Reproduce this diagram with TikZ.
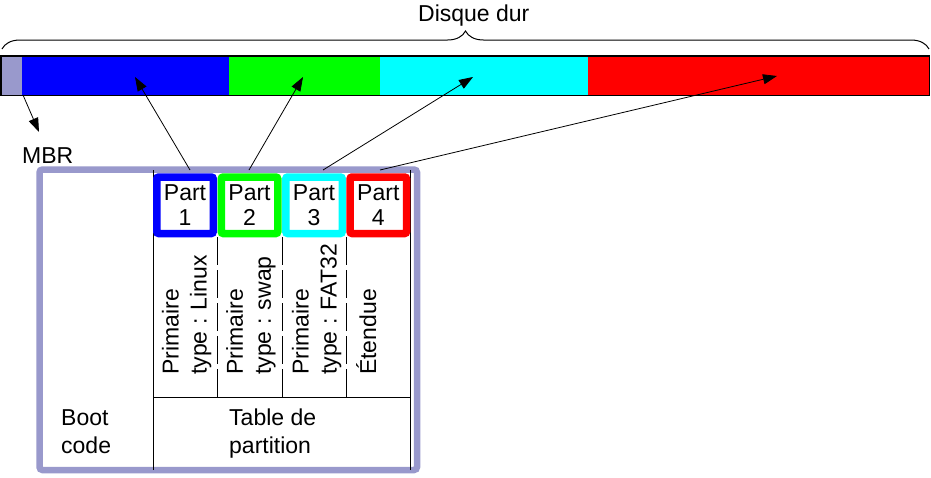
\documentclass[tikz,border=0pt]{standalone}
\usepackage{fontspec}
\setmainfont{Liberation Sans}
\usetikzlibrary{arrows.meta,decorations.pathreplacing}
\definecolor{lav}{RGB}{153,153,204}
\definecolor{pblue}{RGB}{0,0,255}
\definecolor{pgreen}{RGB}{0,255,0}
\definecolor{pcyan}{RGB}{0,255,255}
\definecolor{pred}{RGB}{255,0,0}
\begin{document}
\begin{tikzpicture}[x=1pt,y=-1pt,
  txt/.style={font=\fontsize{23}{28}\selectfont, inner sep=0pt, align=left},
  rot/.style={txt, rotate=90, anchor=north west},
  partbox/.style={draw=#1, fill=white, line width=7.5pt, rounded corners=2pt,
    minimum width=56.5pt, minimum height=56.5pt, inner sep=0pt, align=center,
    font=\fontsize{23}{25.5}\selectfont},
  thin/.style={line width=0.8pt},
  divider/.style={line width=0.8pt, dash pattern=on 28pt off 5pt},
  conn/.style={-{Triangle[length=14pt,width=10pt]}, line width=0.8pt}]
\useasboundingbox[fill=white] (0,0) rectangle (931,477);

% brace and title
\draw[line width=1pt, decorate, decoration={brace, amplitude=18pt}] (2,49) -- (929,49);
\node[txt, anchor=north west] (disque) at (418,5) {Disque dur};

% disk bar
\fill[lav] (0,55) rectangle (22,95);
\fill[pblue] (22,55) rectangle (229,95);
\fill[pgreen] (229,55) rectangle (380,95);
\fill[pcyan] (380,55) rectangle (588,95);
\fill[pred] (588,55) rectangle (929,95);
\draw[line width=1pt] (0.5,55.5) rectangle (929,95);
\draw[line width=2.5pt] (0,56) -- (930,56);
\draw[line width=2pt] (1,55) -- (1,95);

\coordinate (t0) at (23,95);
\coordinate (t1) at (135,77);
\coordinate (t2) at (303,77);
\coordinate (t3) at (473,77);
\coordinate (t4) at (777,76);

% MBR
\node[txt, anchor=north west] (mbr) at (22,147) {MBR};
\coordinate (mbrtip) at (39,132);
\draw[lav, line width=6.5pt, rounded corners=3pt] (39.5,169.5) rectangle (417,470);

\draw[thin] (153,170) -- (153,470);
\draw[thin] (410,170) -- (410,470);
\draw[thin] (153,397) -- (410,397);
\draw[divider] (217.5,237) -- (217.5,397);
\draw[divider] (282,237) -- (282,397);
\draw[divider] (346.5,237) -- (346.5,397);

% partition entries
\node[partbox=pblue] (p1) at (185,205.25) {Part\\1};
\node[partbox=pgreen] (p2) at (249.5,205.25) {Part\\2};
\node[partbox=pcyan] (p3) at (314,205.25) {Part\\3};
\node[partbox=pred] (p4) at (378.3,205.25) {Part\\4};

\node[rot] (d1) at (161.7,375) {Primaire\\type : Linux};
\node[rot] (d2) at (226,375) {Primaire\\type : swap};
\node[rot] (d3) at (291.7,375) {Primaire\\type : FAT32};
\node[rot] (d4) at (356,375) {Étendue};

\node[txt, anchor=north west] (boot) at (61,409) {Boot\\code};
\node[txt, anchor=north west] (table) at (229,409) {Table de\\partition};

% connectors
\coordinate (s1) at (190,170);
\coordinate (s2) at (249,170);
\coordinate (s3) at (323,170);
\coordinate (s4) at (380,170);
\draw[conn] (t0) -- (mbrtip);
\draw[conn] (s1) -- (t1);
\draw[conn] (s2) -- (t2);
\draw[conn] (s3) -- (t3);
\draw[conn] (s4) -- (t4);
\end{tikzpicture}
\end{document}
